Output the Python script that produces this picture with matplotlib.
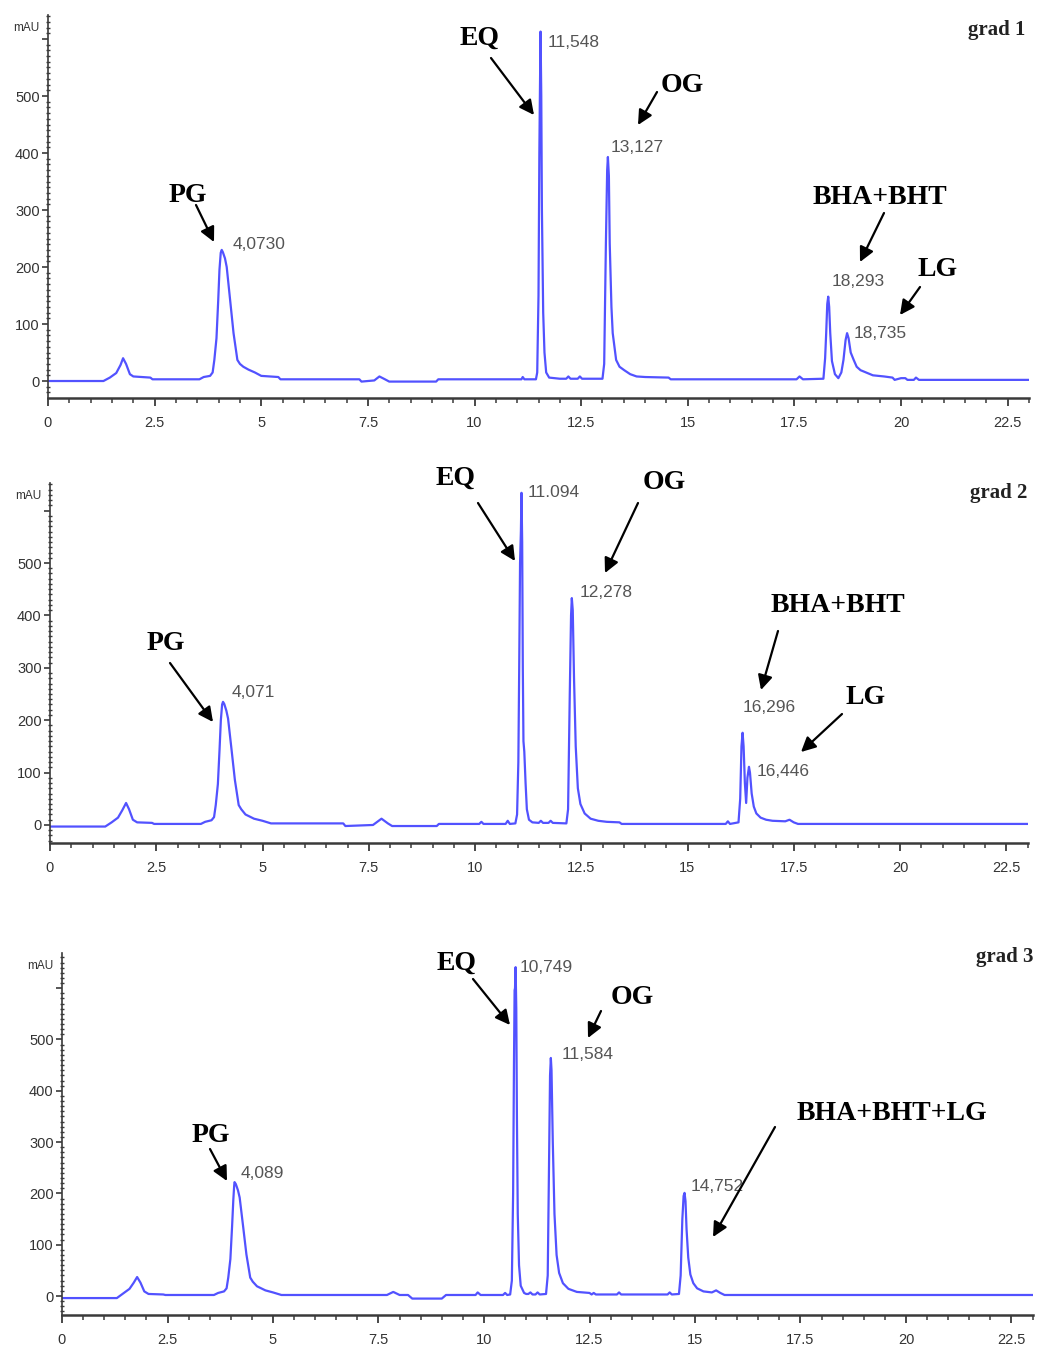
import numpy as np
import matplotlib
matplotlib.use("Agg")
import matplotlib.pyplot as plt
from matplotlib.patches import FancyArrowPatch
from matplotlib.ticker import MultipleLocator, FixedLocator

W, H = 1037, 1356
SANS = ['Liberation Sans Narrow', 'Liberation Sans', 'DejaVu Sans']
SERIF = ['Liberation Serif', 'DejaVu Serif']
TRACE = '#5252ff'
AXC = '#3a3a3a'

# ---- chromatogram traces: retention time [min], absorbance [mAU] ----
t1 = [0.0, 1.30, 1.45, 1.60, 1.70, 1.76, 1.83, 1.92, 2.00, 2.40, 2.45,
      3.55, 3.65, 3.80, 3.86, 3.90, 3.95, 3.99, 4.02, 4.05, 4.073, 4.10,
      4.15, 4.19, 4.27, 4.35, 4.44, 4.50, 4.58, 4.70, 4.85, 5.00, 5.40,
      5.45, 7.30, 7.35, 7.65, 7.77, 7.90, 8.00, 9.10, 9.15, 11.10, 11.13,
      11.17, 11.44, 11.47, 11.50, 11.52, 11.53, 11.548, 11.565, 11.58,
      11.61, 11.64, 11.68, 11.75, 12.00, 12.15, 12.20, 12.25, 12.42, 12.47,
      12.52, 13.00, 13.04, 13.08, 13.11, 13.127, 13.15, 13.17, 13.21, 13.24,
      13.32, 13.40, 13.51, 13.65, 13.80, 14.00, 14.55, 14.60, 17.55, 17.62,
      17.70, 18.18, 18.22, 18.245, 18.27, 18.293, 18.315, 18.34, 18.38,
      18.45, 18.53, 18.60, 18.65, 18.70, 18.735, 18.77, 18.82, 18.89, 18.96,
      19.05, 19.34, 19.60, 19.80, 19.85, 20.00, 20.10, 20.15, 20.30, 20.35,
      20.42, 23.0]
a1 = [0, 0, 6, 14, 28, 40, 30, 12, 8, 6, 3,
      3, 7, 9, 15, 37, 75, 140, 195, 225, 230, 226,
      215, 200, 142, 84, 37, 30, 25, 20, 15, 9, 7,
      3, 3, -1, 1, 8, 3, -1, -1, 3, 3, 7,
      3, 3, 15, 150, 400, 481, 613, 500, 300,
      120, 50, 15, 6, 4, 4, 8, 4, 4, 8,
      4, 4, 30, 241, 370, 393, 360, 241, 130, 84,
      37, 25, 19, 12, 8, 7, 6, 3, 3, 8,
      3, 4, 40, 84, 135, 148, 130, 84, 35,
      12, 5, 15, 37, 72, 84, 75, 50, 37, 25,
      19, 10, 8, 6, 2, 5, 5, 2, 2, 6,
      2, 2]

t2 = [0.0, 1.30, 1.45, 1.60, 1.70, 1.79, 1.86, 1.95, 2.05, 2.40, 2.45,
      3.55, 3.65, 3.80, 3.86, 3.90, 3.95, 3.99, 4.02, 4.05, 4.071, 4.10,
      4.15, 4.19, 4.27, 4.35, 4.44, 4.50, 4.60, 4.80, 5.00, 5.20, 6.90,
      6.95, 7.60, 7.80, 7.95, 8.05, 9.10, 9.15, 10.10, 10.15, 10.20, 10.72,
      10.77, 10.82, 10.95, 10.99, 11.02, 11.04, 11.06, 11.08, 11.094, 11.11,
      11.125, 11.14, 11.16, 11.19, 11.22, 11.27, 11.35, 11.50, 11.55, 11.60,
      11.73, 11.78, 11.83, 12.15, 12.19, 12.23, 12.26, 12.278, 12.30, 12.33,
      12.37, 12.42, 12.48, 12.58, 12.72, 12.90, 13.10, 13.40, 13.45, 15.90,
      15.95, 16.00, 16.20, 16.24, 16.27, 16.296, 16.32, 16.35, 16.38, 16.41,
      16.446, 16.47, 16.51, 16.56, 16.62, 16.72, 16.85, 17.00, 17.30, 17.40,
      17.50, 17.60, 23.0]
a2 = [-3, -3, 5, 14, 28, 42, 30, 10, 5, 4, 2,
      2, 6, 9, 15, 38, 78, 145, 200, 230, 235, 231,
      218, 203, 145, 86, 38, 30, 20, 12, 8, 3, 3,
      -2, 0, 12, 3, -2, -2, 2, 2, 6, 2, 2,
      8, 2, 3, 20, 120, 300, 500, 560, 634, 540,
      300, 160, 140, 80, 30, 10, 5, 4, 8, 4,
      4, 8, 4, 3, 30, 250, 400, 433, 410, 280,
      150, 70, 40, 22, 12, 8, 6, 5, 2, 2,
      7, 2, 5, 50, 150, 176, 150, 80, 42, 90,
      111, 100, 60, 35, 22, 14, 10, 8, 7, 10,
      5, 2, 2]

t3 = [0.0, 1.30, 1.45, 1.60, 1.70, 1.78, 1.86, 1.95, 2.05, 2.40, 2.45,
      3.60, 3.70, 3.84, 3.90, 3.94, 3.99, 4.03, 4.06, 4.08, 4.089, 4.12,
      4.17, 4.21, 4.29, 4.37, 4.46, 4.52, 4.62, 4.82, 5.00, 5.20, 7.50,
      7.70, 7.85, 8.00, 8.20, 8.30, 9.00, 9.10, 9.80, 9.85, 9.92, 10.45,
      10.50, 10.55, 10.62, 10.66, 10.69, 10.71, 10.725, 10.735, 10.749,
      10.765, 10.78, 10.80, 10.83, 10.87, 10.95, 11.00, 11.05, 11.10, 11.15,
      11.22, 11.27, 11.32, 11.47, 11.51, 11.54, 11.565, 11.584, 11.60, 11.63,
      11.67, 11.72, 11.78, 11.87, 12.00, 12.20, 12.50, 12.55, 12.60, 12.65,
      13.15, 13.20, 13.25, 14.35, 14.40, 14.45, 14.62, 14.66, 14.70, 14.73,
      14.752, 14.775, 14.80, 14.84, 14.89, 14.96, 15.05, 15.20, 15.40, 15.50,
      15.60, 15.70, 23.0]
a3 = [-4, -4, 5, 14, 26, 37, 26, 9, 4, 3, 2,
      2, 6, 9, 15, 36, 72, 135, 188, 215, 222, 218,
      206, 192, 137, 81, 36, 28, 19, 11, 7, 2, 2,
      2, 8, 2, 2, -5, -5, 2, 2, 7, 2, 2,
      6, 2, 3, 30, 200, 450, 596, 600, 641,
      560, 350, 160, 60, 20, 6, 4, 4, 7, 3,
      3, 7, 3, 4, 40, 250, 430, 464, 440, 300,
      160, 80, 45, 25, 14, 8, 6, 3, 6, 3,
      3, 7, 3, 3, 7, 3, 4, 40, 150, 195,
      201, 185, 130, 75, 42, 25, 15, 9, 7, 11,
      6, 2, 2]

# ---- integrated peaks: retention time, height, printed label ----
rt1 = [4.073, 11.548, 13.127, 18.293, 18.735]
ht1 = [230, 613, 393, 148, 84]
lb1 = ['4,0730', '11,548', '13,127', '18,293', '18,735']

rt2 = [4.071, 11.094, 12.278, 16.296, 16.446]
ht2 = [235, 634, 433, 176, 111]
lb2 = ['4,071', '11.094', '12,278', '16,296', '16,446']

rt3 = [4.089, 10.749, 11.584, 14.752]
ht3 = [222, 641, 464, 201]
lb3 = ['4,089', '10,749', '11,584', '14,752']

# ---- compound names ----
names1 = ['PG', 'EQ', 'OG', 'BHA+BHT', 'LG']
names2 = ['PG', 'EQ', 'OG', 'BHA+BHT', 'LG']
names3 = ['PG', 'EQ', 'OG', 'BHA+BHT+LG']
titles = ['grad 1', 'grad 2', 'grad 3']

xticks = [0, 2.5, 5, 7.5, 10, 12.5, 15, 17.5, 20, 22.5]
xticklabels = ['0', '2.5', '5', '7.5', '10', '12.5', '15', '17.5', '20', '22.5']
yticks = [0, 100, 200, 300, 400, 500, 600]
yticklabels = ['0', '100', '200', '300', '400', '500', '']

# ---- layout (pixels of the output image) ----
panels = [
    dict(box=(48, 15, 1029, 398), ylim=(-29.8, 642.1),
         t=t1, a=a1, rt=rt1, ht=ht1, lb=lb1, names=names1,
         offs=[(11, -5), (7, 11), (3, -9), (3, -15), (7, 0)],
         name_xy=[(188, 195), (480, 38), (682, 85), (880, 198), (938, 270)],
         arrows=[((196, 205), (214, 242)), ((491, 58), (534, 115)),
                 ((657, 92), (638, 125)), ((884, 213), (860, 262)),
                 ((920, 287), (900, 315))],
         title_xy=(1025, 30)),
    dict(box=(50, 483, 1027.5, 843), ylim=(-34.4, 652.7),
         t=t2, a=a2, rt=rt2, ht=ht2, lb=lb2, names=names2,
         offs=[(9, -9), (6, 0), (8, -6), (0, -25), (8, 5)],
         name_xy=[(166, 643), (456, 478), (664, 482), (838, 605), (866, 698)],
         arrows=[((170, 663), (213, 722)), ((478, 503), (515, 561)),
                 ((638, 503), (605, 573)), ((778, 631), (761, 690)),
                 ((842, 714), (801, 752))],
         title_xy=(1027, 493)),
    dict(box=(62, 953, 1032.6, 1315), ylim=(-37.0, 668.6),
         t=t3, a=a3, rt=rt3, ht=ht3, lb=lb3, names=names3,
         offs=[(6, -9), (4, 0), (11, -3), (6, -6)],
         name_xy=[(211, 1135), (457, 963), (632, 997), (892, 1113)],
         arrows=[((210, 1149), (227, 1181)), ((473, 979), (510, 1025)),
                 ((601, 1011), (588, 1038)), ((775, 1127), (713, 1237))],
         title_xy=(1033, 957)),
]


def fpos(x, y):
    return x / W, 1 - y / H


fig = plt.figure(figsize=(W / 100, H / 100), dpi=100)
px2pt = 72 / 100

for p, title in zip(panels, titles):
    x0, y0, x1, y1 = p['box']
    ax = fig.add_axes([x0 / W, 1 - y1 / H, (x1 - x0) / W, (y1 - y0) / H])
    ax.plot(p['t'], p['a'], color=TRACE, lw=1.6, solid_joinstyle='round')
    ax.set_xlim(0, 23)
    ax.set_ylim(*p['ylim'])

    for s in ['top', 'right']:
        ax.spines[s].set_visible(False)
    ax.spines['left'].set_color(AXC)
    ax.spines['left'].set_linewidth(1.2)
    ax.spines['bottom'].set_color(AXC)
    ax.spines['bottom'].set_linewidth(1.8)

    ax.xaxis.set_major_locator(FixedLocator(xticks))
    ax.set_xticklabels(xticklabels)
    ax.xaxis.set_minor_locator(MultipleLocator(0.5))
    ax.yaxis.set_major_locator(FixedLocator(yticks))
    ax.set_yticklabels(yticklabels)
    ax.yaxis.set_minor_locator(MultipleLocator(10))
    ax.tick_params(axis='x', which='major', direction='out', length=6,
                   width=1.3, color=AXC, pad=7, labelsize=10.5,
                   labelcolor='#333333')
    ax.tick_params(axis='x', which='minor', direction='out', length=3.5,
                   width=1.1, color=AXC)
    ax.tick_params(axis='y', which='major', direction='out', length=4,
                   width=1.2, color=AXC, pad=2, labelsize=10.5,
                   labelcolor='#333333')
    ax.tick_params(axis='y', which='minor', direction='inout', length=3,
                   width=1.0, color=AXC)
    for lab in ax.get_xticklabels() + ax.get_yticklabels():
        lab.set_family(SANS)

    ax.text(-0.009, 0.965, 'mAU', transform=ax.transAxes, ha='right',
            va='center', fontsize=8.5, family=SANS, color='#333333')

    # retention-time labels next to each peak apex
    for rt, ht, lb, (dx, dy) in zip(p['rt'], p['ht'], p['lb'], p['offs']):
        ax.annotate(lb, xy=(rt, ht), xytext=(dx * px2pt, -dy * px2pt),
                    textcoords='offset points', ha='left', va='center',
                    fontsize=12.5, family=SANS, color='#555555')

    # compound names with arrows
    for name, (nx, ny) in zip(p['names'], p['name_xy']):
        fig.text(*fpos(nx, ny), name, ha='center', va='center', fontsize=20,
                 family=SERIF, fontweight='bold', color='black')
    for (sx, sy), (ex, ey) in p['arrows']:
        fig.add_artist(FancyArrowPatch(
            fpos(sx, sy), fpos(ex, ey), transform=fig.transFigure,
            arrowstyle='-|>', mutation_scale=22, lw=1.6, color='black',
            shrinkA=0, shrinkB=0))

    fig.text(*fpos(*p['title_xy']), title, ha='right', va='center',
             fontsize=15, family=SERIF, fontweight='bold', color='#222222')

fig.savefig('out.png', dpi=100)
